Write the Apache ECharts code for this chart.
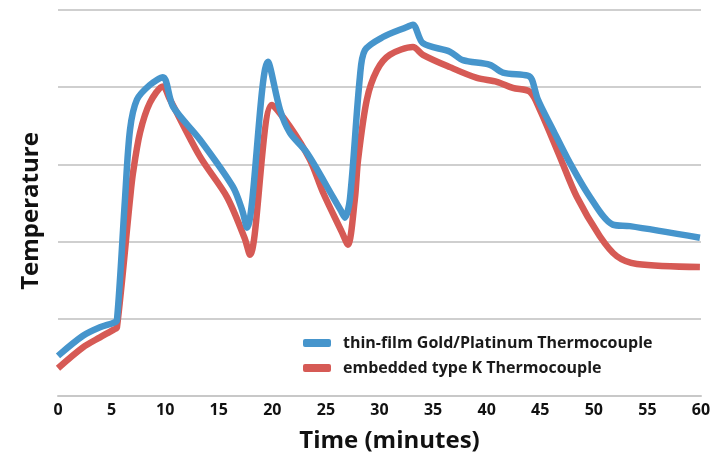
<!DOCTYPE html>
<html><head><meta charset="utf-8">
<script src="https://cdn.jsdelivr.net/npm/echarts@6/dist/echarts.min.js"></script>
<style>html,body{margin:0;padding:0;background:#fff}#c{width:725px;height:458px}</style>
</head><body><div id="c"></div>
<script>
const seriesNames = ['thin-film Gold/Platinum Thermocouple', 'embedded type K Thermocouple'];
const xTicks = [0,5,10,15,20,25,30,35,40,45,50,55,60];
const blueData = [
 [0,0.52],[2.33,0.78],[3.92,0.89],[5.2,0.95],[5.5,0.98],[6.25,2.55],[6.72,3.45],[7.37,3.84],[8.58,4.03],[9.79,4.13],
 [10.73,3.75],[13.25,3.32],[16.32,2.71],[17.2,2.4],[17.63,2.18],[19.59,4.33],[20.71,3.71],[21.64,3.41],[23.23,3.15],
 [25.65,2.58],[26.4,2.4],[26.77,2.31],[27.24,2.55],[28.17,4.13],[28.64,4.48],[30.32,4.65],[32.56,4.78],[33.12,4.81],
 [34.05,4.57],[36.57,4.46],[37.78,4.35],[40.3,4.29],[41.51,4.19],[43.84,4.15],[44.22,4.10],[44.78,3.84],
 [46.18,3.45],[47.76,3.02],[49.63,2.58],[51.77,2.22],[53.36,2.20],[59.9,2.05]
];
const redData = [
 [0,0.36],[2.33,0.63],[3.92,0.76],[5.2,0.86],[5.5,0.89],[6.72,2.55],[7.0,2.89],[7.65,3.41],[8.58,3.80],[9.79,4.01],
 [10.45,3.84],[13.25,3.10],[15.76,2.58],[17.4,2.05],[17.91,1.83],[19.96,3.77],[21.64,3.49],[23.51,3.06],[24.72,2.64],
 [26.5,2.12],[27.05,1.96],[27.7,2.55],[28.0,3.06],[28.82,3.84],[29.76,4.22],[30.97,4.42],[33.12,4.52],[34.05,4.42],
 [36.57,4.26],[39.09,4.12],[40.95,4.07],[42.44,3.99],[44.03,3.94],[44.96,3.71],[46.83,3.10],[48.41,2.58],
 [50.56,2.07],[52.15,1.81],[54.01,1.71],[59.9,1.67]
];
const chart = echarts.init(document.getElementById('c'));
chart.setOption({
  animation:false,
  grid:{left:58,right:24,top:10,bottom:61},
  legend:{
    orient:'vertical', left:298, top:330, itemWidth:28, itemHeight:8, itemGap:9, icon:'roundRect',
    textStyle:{fontFamily:'Open Sans', fontWeight:'bold', fontSize:16, color:'#1a1a1a', padding:[0,0,0,7]},
    data:seriesNames
  },
  xAxis:{
    type:'value', min:0, max:60, interval:5,
    name:'Time (minutes)', nameLocation:'middle', nameGap:33,
    nameTextStyle:{fontFamily:'Open Sans', fontWeight:'bold', fontSize:24, color:'#111', padding:[0,0,0,20]},
    axisLine:{show:true, lineStyle:{color:'#c8c8c8', width:2}},
    axisTick:{show:false}, splitLine:{show:false},
    axisLabel:{fontFamily:'Open Sans', fontWeight:'bold', fontSize:16, color:'#111', margin:6,
      formatter:v=>xTicks.includes(v)?String(v):''}
  },
  yAxis:{
    type:'value', min:0, max:5, interval:1,
    name:'Temperature', nameLocation:'middle', nameGap:15,
    nameTextStyle:{fontFamily:'Open Sans', fontWeight:'bold', fontSize:24, color:'#111', padding:[0,16,0,0]},
    axisLine:{show:false}, axisTick:{show:false}, axisLabel:{show:false},
    splitLine:{lineStyle:{color:'#cfcfcf', width:2}}
  },
  series:[
    {name:seriesNames[0], type:'line', data:blueData, showSymbol:false, smooth:0.3,
     lineStyle:{color:'#4695cc', width:6.5}, itemStyle:{color:'#4695cc'}, z:3},
    {name:seriesNames[1], type:'line', data:redData, showSymbol:false, smooth:0.3,
     lineStyle:{color:'#d65a55', width:6.5}, itemStyle:{color:'#d65a55'}, z:2}
  ]
});
</script></body></html>
